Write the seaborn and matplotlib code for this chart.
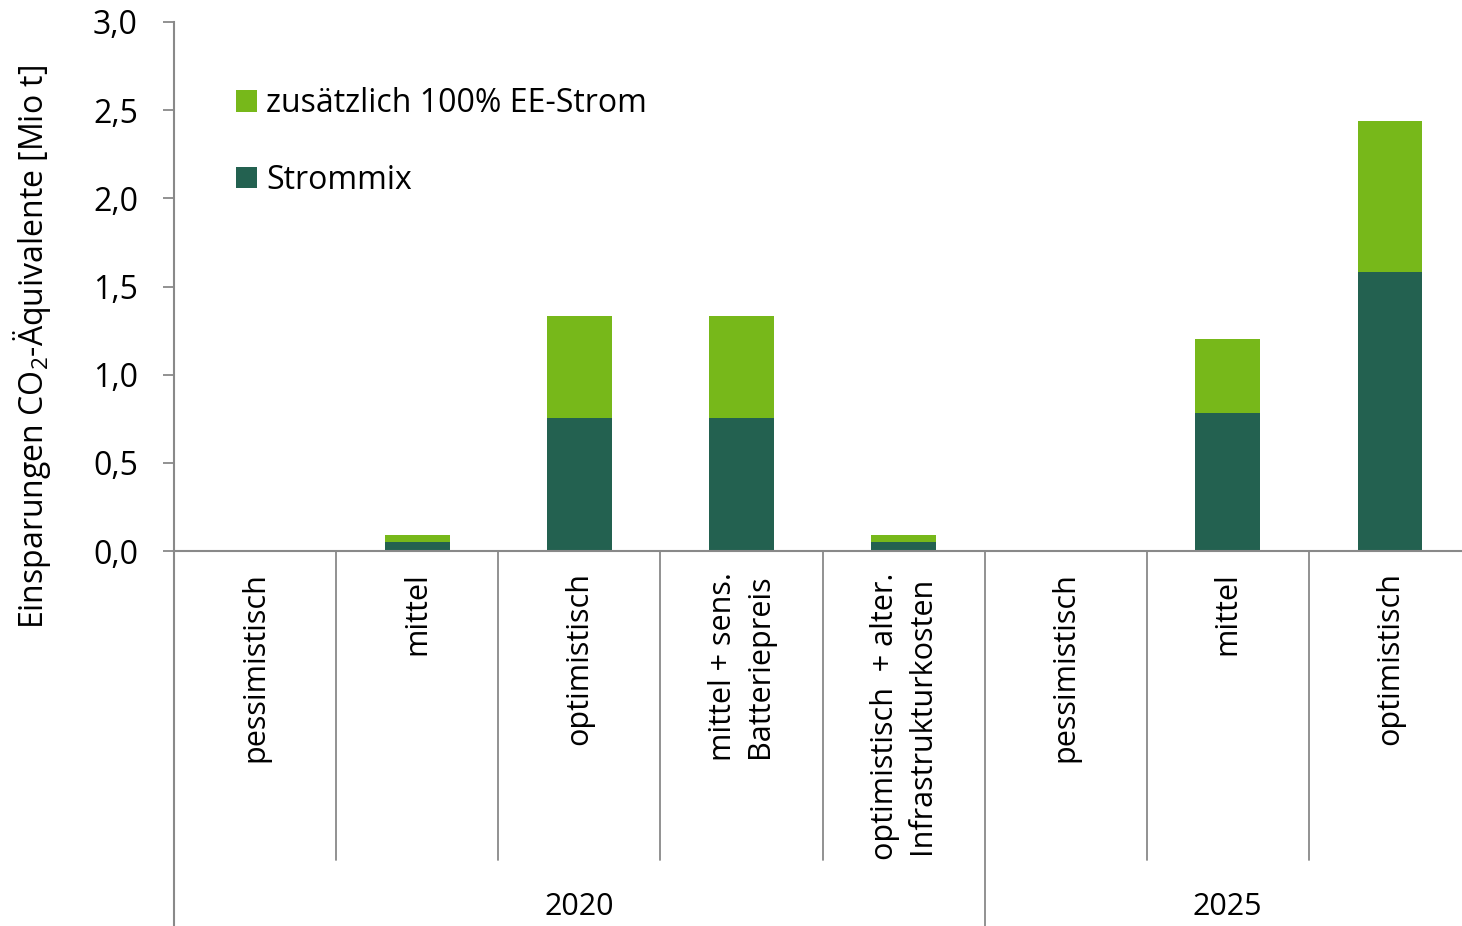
import numpy as np
import pandas as pd
import matplotlib
matplotlib.use("Agg")
import matplotlib.pyplot as plt
import matplotlib.transforms as mtransforms
from matplotlib.patches import Patch
import seaborn as sns

# Scenario categories, grouped by year
years = ["2020", "2025"]
scenarios_2020 = [
    "pessimistisch",
    "mittel",
    "optimistisch",
    "mittel + sens.\nBatteriepreis",
    "optimistisch  + alter.\nInfrastrukturkosten",
]
scenarios_2025 = ["pessimistisch", "mittel", "optimistisch"]

# CO2 savings in Mio t CO2-equivalents
strommix = [0.0, 0.05, 0.755, 0.755, 0.05, 0.0, 0.78, 1.585]
ee_zusatz = [0.0, 0.04, 0.575, 0.575, 0.04, 0.0, 0.42, 0.855]

y_ticks = [0.0, 0.5, 1.0, 1.5, 2.0, 2.5, 3.0]
y_tick_labels = ["0,0", "0,5", "1,0", "1,5", "2,0", "2,5", "3,0"]

series_labels = ["zusätzlich 100% EE-Strom", "Strommix"]
col_light = "#77b81a"
col_dark = "#236150"
grey = "#898989"

sns.set_theme(style="white")
plt.rcParams["font.family"] = ["Open Sans", "DejaVu Sans"]
plt.rcParams["mathtext.fontset"] = "custom"
plt.rcParams["mathtext.rm"] = "Open Sans"
plt.rcParams["mathtext.it"] = "Open Sans"
plt.rcParams["text.color"] = "black"
plt.rcParams["axes.labelcolor"] = "black"
plt.rcParams["ytick.labelcolor"] = "black"

labels = scenarios_2020 + scenarios_2025
groups = [years[0]] * len(scenarios_2020) + [years[1]] * len(scenarios_2025)
slots = [f"{g}|{i}" for i, g in enumerate(groups)]
df = pd.DataFrame({
    "slot": slots,
    "strommix": strommix,
    "total": np.array(strommix) + np.array(ee_zusatz),
})

FS = 23
FS_CAT = 22

fig = plt.figure(figsize=(14.62, 9.26), dpi=100)
# plot area runs slightly past the right edge of the canvas
ax = fig.add_axes([174 / 1462, 375 / 926, 1297 / 1462, 529 / 926])

sns.barplot(data=df, x="slot", y="total", order=slots, color=col_light,
            saturation=1, width=0.4, ax=ax, linewidth=0)
sns.barplot(data=df, x="slot", y="strommix", order=slots, color=col_dark,
            saturation=1, width=0.4, ax=ax, linewidth=0)

ax.set_xlim(-0.5, len(slots) - 0.5)
ax.set_ylim(0, 3.0)
ax.set_yticks(y_ticks)
ax.set_yticklabels(y_tick_labels, fontsize=FS)
ax.tick_params(axis="y", direction="out", length=8, width=1.3, color=grey,
               pad=18, left=True)
ax.set_xticks([])
ax.set_xlabel("")

for side in ["top", "right"]:
    ax.spines[side].set_visible(False)
for side in ["left", "bottom"]:
    ax.spines[side].set_color(grey)
    ax.spines[side].set_linewidth(1.5)

ax.set_ylabel("Einsparungen CO$_2$-Äquivalente [Mio t]", fontsize=FS)
ax.yaxis.set_label_coords(-0.1095, 0.385)
ax.yaxis.label.set_va("center")

trans = mtransforms.blended_transform_factory(ax.transData, ax.transAxes)

# category labels below the axis
for i, lab in enumerate(labels):
    ax.text(i, -0.04, lab, transform=trans, rotation=90, ha="center",
            va="top", multialignment="center", fontsize=FS_CAT,
            linespacing=1.3)

# separators between categories and groups
n2020 = len(scenarios_2020)
for b in np.arange(0.5, len(slots) - 0.5, 1.0):
    y_end = -0.72 if abs(b - (n2020 - 0.5)) < 1e-9 else -0.584
    ax.plot([b, b], [0, y_end], transform=trans, color=grey, lw=1.3,
            clip_on=False)
ax.plot([-0.5, -0.5], [0, -0.72], transform=trans, color=grey, lw=1.5,
        clip_on=False)

# year labels
ax.text((n2020 - 1) / 2, -0.673, years[0], transform=trans, ha="center",
        va="center", fontsize=FS_CAT)
ax.text(n2020 + (len(scenarios_2025) - 1) / 2, -0.673, years[1],
        transform=trans, ha="center", va="center", fontsize=FS_CAT)

handles = [Patch(facecolor=col_light, edgecolor="none"),
           Patch(facecolor=col_dark, edgecolor="none")]
ax.legend(handles, series_labels, loc="upper left",
          bbox_to_anchor=(0.0478, 0.877), frameon=False, fontsize=FS,
          handlelength=0.66, handleheight=0.66, handletextpad=0.28,
          labelspacing=1.36, borderpad=0, borderaxespad=0)

fig.savefig("out.png", dpi=100)
